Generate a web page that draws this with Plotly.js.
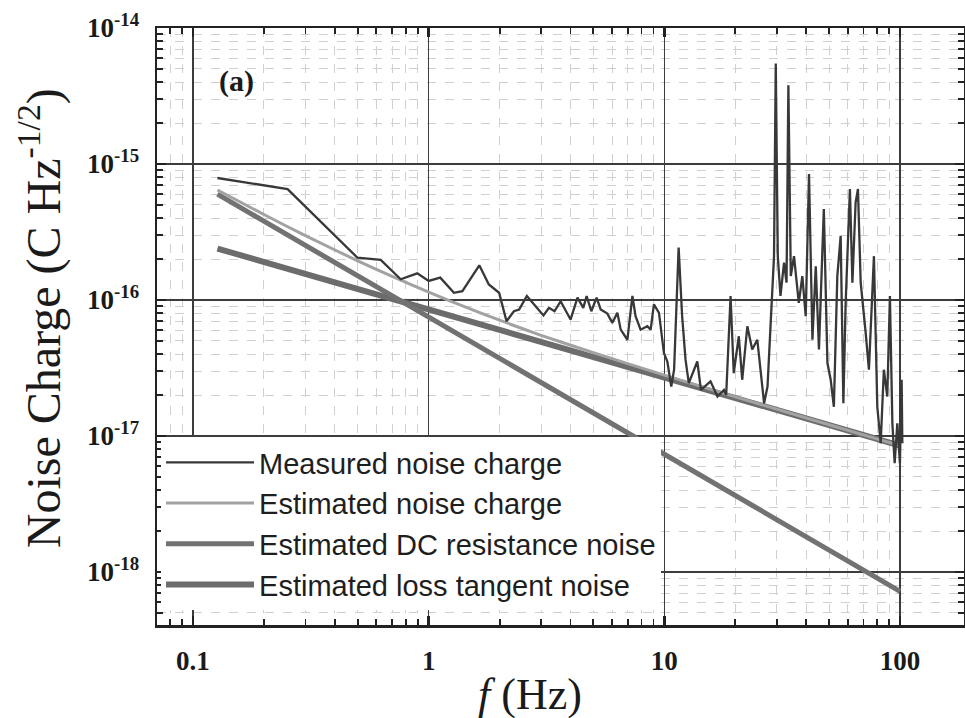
<!DOCTYPE html>
<html>
<head>
<meta charset="utf-8">
<script src="https://cdn.plot.ly/plotly-3.0.1.min.js"></script>
<style>html,body{margin:0;padding:0;background:#fff;}#chart{width:965px;height:718px;}</style>
</head>
<body>
<div id="chart"></div>
<script>
// ---- data ----
const measFreq = [0.127,0.194,0.252,0.498,0.626,0.761,0.895,1.00,1.12,1.28,1.39,1.64,1.80,1.99,2.14,2.30,2.42,2.61,2.80,3.07,3.24,3.42,3.63,4.00,4.28,4.53,4.68,4.90,5.16,5.37,5.73,6.02,6.32,6.53,6.97,7.32,7.55,7.93,8.47,8.75,9.03,9.49,9.96,10.3,10.7,11.0,11.5,11.9,12.3,12.7,13.8,14.3,15.7,16.8,17.9,18.3,19.1,19.7,20.7,21.4,22.5,23.6,24.8,25.6,26.5,27.4,28.7,29.2,29.7,30.3,31.1,32.2,33.0,33.6,34.4,35.5,37.2,38.5,39.8,41.1,42.5,43.9,45.3,47.5,49.2,50.8,52.4,54.2,56.0,57.5,58.8,61.3,62.8,64.8,66.3,68.1,71.5,73.8,77.5,80.1,82.8,85.4,88.3,90.6,92.8,94.9,97.4,99.9,101.6,102.3];
const measQ = [7.89e-16,7.0e-16,6.54e-16,2.05e-16,1.97e-16,1.42e-16,1.57e-16,1.38e-16,1.46e-16,1.13e-16,1.16e-16,1.80e-16,1.30e-16,1.13e-16,6.98e-17,8.26e-17,8.51e-17,1.07e-16,9.27e-17,7.69e-17,8.75e-17,8.26e-17,9.79e-17,7.18e-17,1.04e-16,8.75e-17,1.07e-16,8.26e-17,1.04e-16,8.51e-17,7.94e-17,6.79e-17,8.05e-17,6.05e-17,5.10e-17,1.07e-16,7.59e-17,6.05e-17,6.41e-17,6.05e-17,9.27e-17,8.05e-17,4.07e-17,3.53e-17,2.31e-17,3.07e-17,2.43e-16,7.59e-17,3.64e-17,2.45e-17,3.53e-17,2.18e-17,2.52e-17,1.95e-17,2.18e-17,2.0e-17,1.07e-16,2.90e-17,5.41e-17,2.59e-17,6.41e-17,4.32e-17,5.10e-17,3.07e-17,1.74e-17,2.31e-17,1.07e-16,2.10e-16,5.47e-15,2.10e-16,1.07e-16,1.88e-16,1.34e-16,3.79e-15,1.50e-16,2.10e-16,9.53e-17,1.50e-16,7.59e-17,8.43e-16,5.10e-17,1.77e-16,4.32e-17,4.66e-16,3.44e-17,2.59e-17,1.64e-17,1.50e-16,2.96e-16,1.74e-17,9.53e-17,6.54e-16,1.34e-16,5.21e-16,6.54e-16,1.34e-16,5.73e-17,3.07e-17,2.10e-16,1.64e-17,8.83e-18,3.07e-17,1.95e-17,1.07e-16,1.24e-17,6.30e-18,1.24e-17,6.30e-18,2.59e-17,8.83e-18];

const estFreq = [0.127,0.2,0.3,0.5,0.7,1,1.5,2,3,5,10,20,50,100];
const estQ = [6.44e-16,4.25e-16,2.97e-16,1.94e-16,1.49e-16,1.14e-16,8.6e-17,7.1e-17,5.5e-17,4.1e-17,2.8e-17,1.94e-17,1.21e-17,8.5e-18];

const dcFreq = [0.127,100];
const dcQ = [6.0e-16,7.2e-19];

const ltFreq = [0.127,100];
const ltQ = [2.39e-16,8.5e-18];

const seriesNames = ['Measured noise charge','Estimated noise charge','Estimated DC resistance noise','Estimated loss tangent noise'];

const xTickVals = [0.1,1,10,100];
const xTickText = ['0.1','1','10','100'];
const xMinorVals = [0.08,0.09,0.2,0.3,0.4,0.5,0.6,0.7,0.8,0.9,2,3,4,5,6,7,8,9,20,30,40,50,60,70,80,90];
const yTickVals = [1e-14,1e-15,1e-16,1e-17,1e-18];
const yTickText = ['10<sup>-14</sup>','10<sup>-15</sup>','10<sup>-16</sup>','10<sup>-17</sup>','10<sup>-18</sup>'];
const yMinorVals = [];
[-15,-16,-17,-18,-19].forEach(function(e){ for (let m=2;m<=9;m++){ yMinorVals.push(m*Math.pow(10,e)); } });

// ---- chart ----
const serif = 'Liberation Serif, Times New Roman, serif';
const sans = 'Liberation Sans, Arial, sans-serif';

const traces = [
  {x: ltFreq, y: ltQ, name: seriesNames[3], mode:'lines', line:{color:'#6c6c6c', width:6}},
  {x: dcFreq, y: dcQ, name: seriesNames[2], mode:'lines', line:{color:'#727272', width:5}},
  {x: estFreq, y: estQ, name: seriesNames[1], mode:'lines', line:{color:'#a2a2a2', width:3, shape:'spline', smoothing:0.6}},
  {x: measFreq, y: measQ, name: seriesNames[0], mode:'lines', line:{color:'#383838', width:2.3}}
];

function axisCommon(){
  return {
    type:'log', showline:true, linecolor:'#222', linewidth:2.5, mirror:'allticks',
    ticks:'inside', ticklen:9, tickwidth:2.5, tickcolor:'#222',
    showgrid:true, gridcolor:'#3c3c3c', gridwidth:1.5, zeroline:false,
    tickfont:{family:serif, size:27, color:'#1a1a1a', weight:'bold'},
    tickmode:'array'
  };
}

const xaxis = Object.assign(axisCommon(), {
  range:[-1.1527, 2.2715], tickvals:xTickVals, ticktext:xTickText, ticklabelstandoff:10,
  minor:{tickmode:'array', tickvals:xMinorVals, ticks:'inside', ticklen:6, tickwidth:1.8, tickcolor:'#222', showgrid:true, gridcolor:'#d0d0d0', gridwidth:1, griddash:'dash'}
});
const yaxis = Object.assign(axisCommon(), {
  range:[-18.39, -14], tickvals:yTickVals, ticktext:yTickText, ticklabelstandoff:10,
  minor:{tickmode:'array', tickvals:yMinorVals, ticks:'inside', ticklen:6, tickwidth:1.8, tickcolor:'#222', showgrid:true, gridcolor:'#d0d0d0', gridwidth:1, griddash:'dash'}
});

const layout = {
  width:965, height:718,
  margin:{l:157, r:1, t:28, b:93, pad:0},
  paper_bgcolor:'#ffffff', plot_bgcolor:'#ffffff',
  showlegend:true,
  legend:{x:0.005, xanchor:'left', y:0.315, yanchor:'top', bgcolor:'#ffffff', borderwidth:0,
    font:{family:sans, size:29, color:'#1e1e1e'}, traceorder:'reversed', itemwidth:88},
  xaxis: xaxis, yaxis: yaxis,
  annotations:[
    {text:'<b>(a)</b>', xref:'paper', yref:'paper', x:0.099, y:0.911, xanchor:'center', yanchor:'middle', showarrow:false,
     font:{family:serif, size:30, color:'#1a1a1a'}},
    {text:'<i>f</i> (Hz)', xref:'paper', yref:'paper', x:0.462, y:-0.117, xanchor:'center', yanchor:'middle', showarrow:false,
     font:{family:serif, size:44, color:'#1a1a1a'}},
    {text:'Noise Charge (C Hz<sup>-1/2</sup>)', xref:'paper', yref:'paper', x:-0.145, y:0.514, xanchor:'center', yanchor:'middle', showarrow:false, textangle:-90,
     font:{family:serif, size:48, color:'#1a1a1a'}}
  ]
};

Plotly.newPlot('chart', traces, layout, {displayModeBar:false, staticPlot:true});
</script>
</body>
</html>
